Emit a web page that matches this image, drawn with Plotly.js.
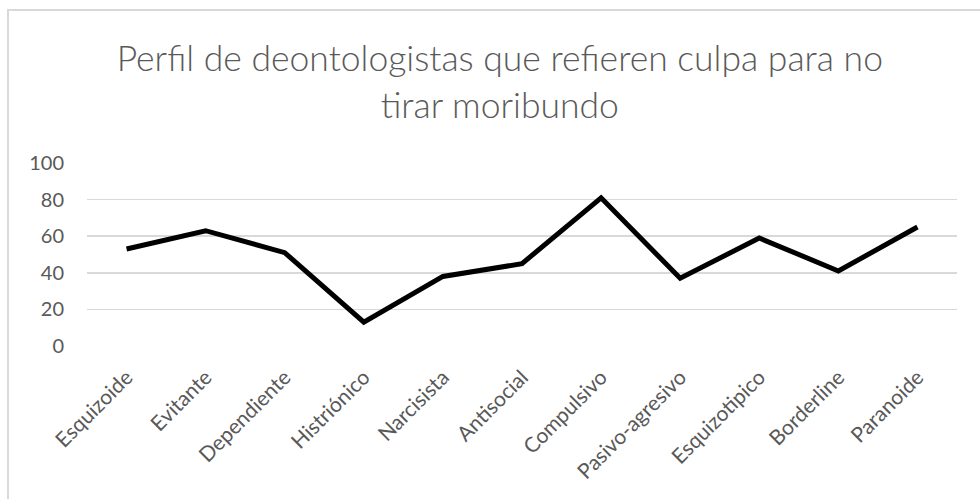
<!DOCTYPE html>
<html>
<head>
<meta charset="utf-8">
<script src="https://cdn.plot.ly/plotly-3.0.1.min.js"></script>
<style>
  html, body { margin: 0; padding: 0; background: #fff; }
  #chart { width: 980px; height: 499px; position: absolute; left: 0; top: 0; }
  #frame { position: absolute; left: 7px; top: 9px; width: 1000px; height: 520px;
           border-left: 2px solid #d9d9d9; border-top: 2px solid #d9d9d9; pointer-events: none; }
</style>
</head>
<body>
<div id="chart"></div>
<div id="frame"></div>
<script>
const categories = ["Esquizoide", "Evitante", "Dependiente", "Histriónico", "Narcisista",
  "Antisocial", "Compulsivo", "Pasivo-agresivo", "Esquizotipico", "Borderline", "Paranoide"];
const values = [53, 63, 51, 13, 38, 45, 81, 37, 59, 41, 65];
const yTicks = [0, 20, 40, 60, 80, 100];
const titleText = "Perfil de deontologistas que refieren culpa para no<br>tirar moribundo";

const font = "Lato, 'Open Sans', sans-serif";
Plotly.newPlot("chart", [{
  x: categories, y: values, type: "scatter", mode: "lines",
  line: { color: "#000000", width: 5 }, hoverinfo: "skip"
}], {
  width: 980, height: 499,
  margin: { l: 87, r: 23, t: 163, b: 153 },
  paper_bgcolor: "#ffffff", plot_bgcolor: "#ffffff",
  showlegend: false,
  title: { text: titleText, x: 0.51, xanchor: "center", yref: "container", y: 0.857, yanchor: "middle",
           font: { family: font, size: 35.5, weight: 300, color: "#595959" } },
  xaxis: { type: "category", range: [-0.5, categories.length - 0.5], tickangle: -45, showgrid: false, zeroline: false,
           showline: false, ticks: "", ticklabelstandoff: 14,
           tickfont: { family: font, size: 21, color: "#595959" } },
  yaxis: { range: [0, 100], tickvals: yTicks, ticktext: yTicks.map(String),
           showgrid: true, gridcolor: "#d9d9d9", gridwidth: 1.5, zeroline: false,
           showline: false, ticks: "", ticklabelstandoff: 22,
           tickfont: { family: font, size: 20, color: "#595959" } }
}, { displayModeBar: false, staticPlot: true });
</script>
</body>
</html>
